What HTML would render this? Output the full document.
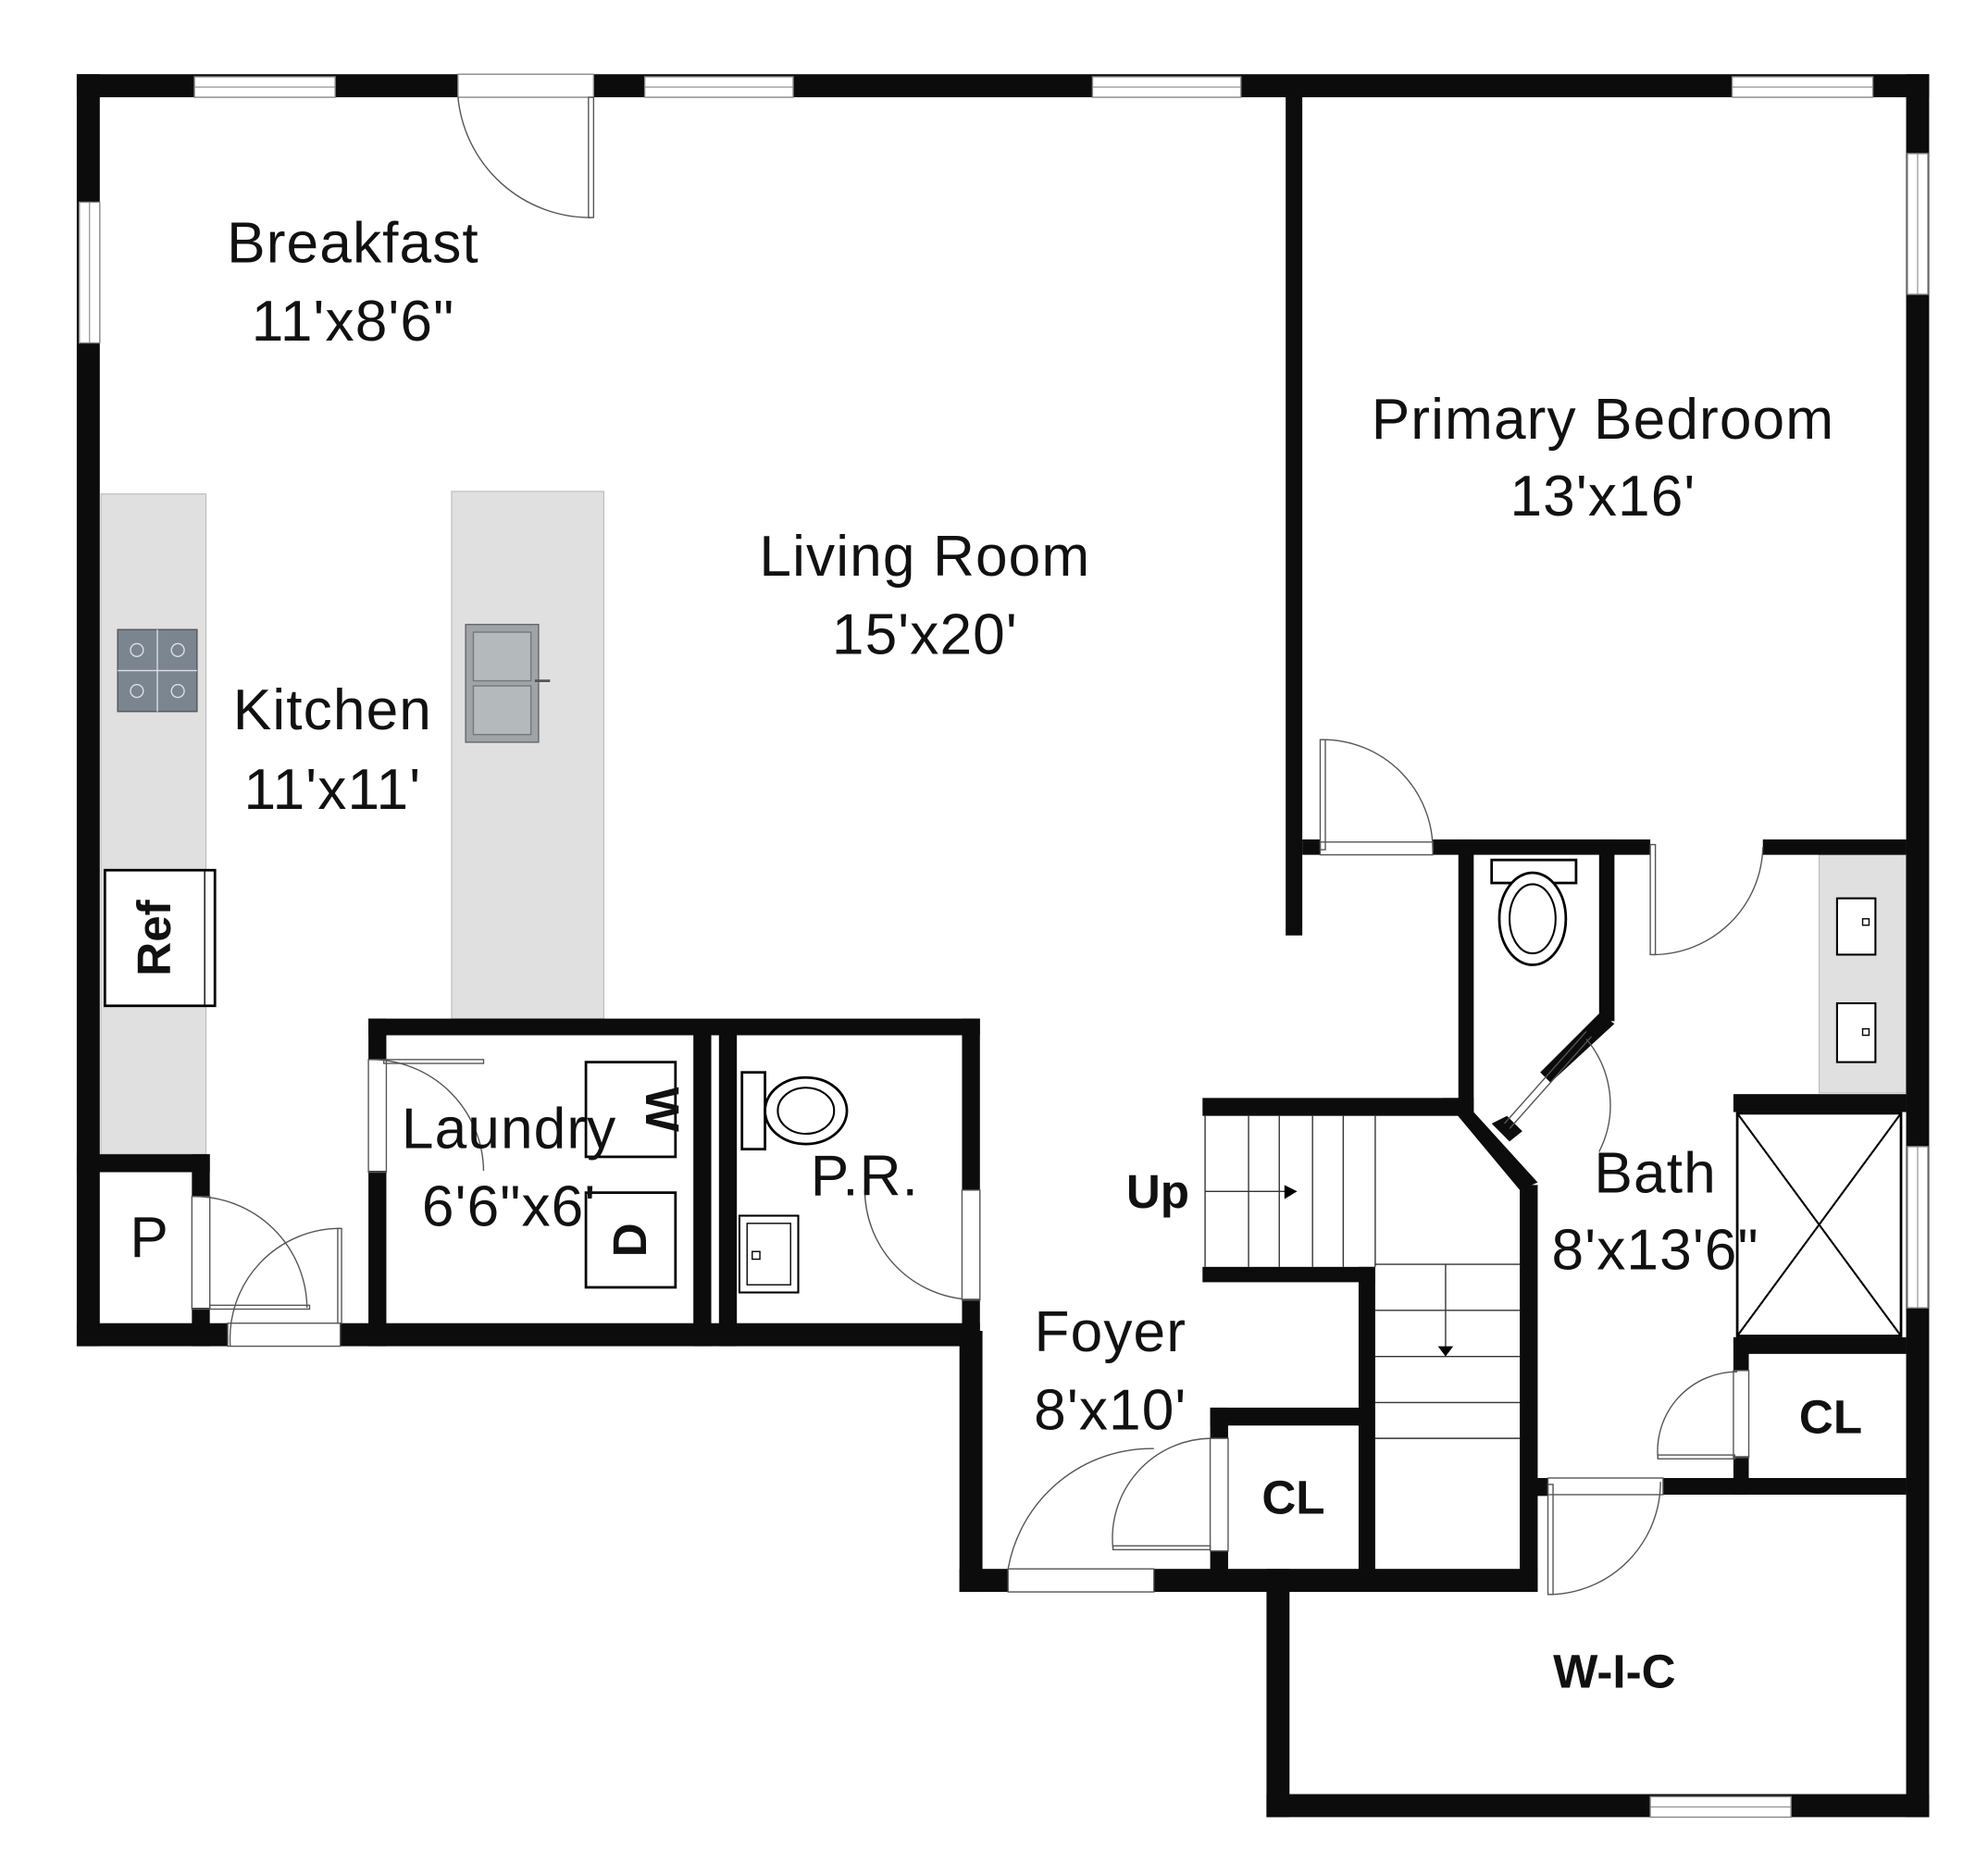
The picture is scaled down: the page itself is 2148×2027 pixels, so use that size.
<!DOCTYPE html>
<html><head><style>html,body{margin:0;padding:0;background:#fff}svg{display:block}</style></head>
<body>
<svg xmlns="http://www.w3.org/2000/svg" width="2148" height="2027" viewBox="0 0 1554 1466" preserveAspectRatio="none">
<rect width="1554" height="1466" fill="#fff"/>
<!-- counters -->
<rect x="79" y="386" width="82" height="516" fill="#e0e0e0" stroke="#bbb" stroke-width="0.8"/>
<rect x="353" y="384" width="119" height="412" fill="#e0e0e0" stroke="#bbb" stroke-width="0.8"/>
<rect x="1422" y="668" width="68" height="186" fill="#e0e0e0" stroke="#bbb" stroke-width="0.8"/>
<g fill="#0c0c0c">
<!-- outer -->
<rect x="60" y="58" width="1448" height="18"/>
<rect x="60" y="58" width="18" height="994"/>
<rect x="1490" y="58" width="18" height="1362"/>
<rect x="990" y="1402" width="518" height="18"/>
<rect x="990" y="1226" width="18" height="194"/>
<rect x="60" y="1034" width="118" height="18"/>
<rect x="266" y="1034" width="500" height="18"/>
<rect x="750" y="1040" width="18" height="204"/>
<rect x="750" y="1226" width="38" height="18"/>
<rect x="902" y="1226" width="300" height="18"/>
<!-- bedroom -->
<rect x="1005" y="68" width="13" height="663"/>
<rect x="1018" y="656" width="14" height="12"/>
<rect x="1120" y="656" width="170" height="12"/>
<rect x="1378" y="656" width="112" height="12"/>
<!-- toilet room -->
<rect x="1140" y="656" width="12" height="214"/>
<rect x="1250" y="656" width="12" height="142"/>
<polygon points="1250,792 1262,800 1212,846 1204,838"/>
<polygon points="1166,878 1178,872 1190,884 1180,892"/>
<!-- stairs walls -->
<rect x="940" y="858" width="212" height="14"/>
<polygon points="1128,858 1142,858 1202,924 1188,930"/>
<rect x="1188" y="926" width="14" height="318"/>
<rect x="940" y="990" width="135" height="12"/>
<rect x="1062" y="990" width="13" height="240"/>
<rect x="946" y="1100" width="119" height="14"/>
<rect x="946" y="1100" width="14" height="24"/>
<rect x="946" y="1212" width="14" height="22"/>
<!-- bath right -->
<rect x="1355" y="855" width="135" height="14"/>
<rect x="1355" y="1045" width="135" height="13"/>
<rect x="1355" y="1045" width="12" height="26"/>
<rect x="1355" y="1138" width="12" height="30"/>
<rect x="1300" y="1155" width="190" height="13"/>
<rect x="1196" y="1155" width="14" height="14"/>
<!-- laundry / PR -->
<rect x="288" y="796" width="478" height="13"/>
<rect x="288" y="796" width="14" height="32"/>
<rect x="288" y="915" width="14" height="137"/>
<rect x="542" y="800" width="14" height="252"/>
<rect x="562" y="800" width="14" height="252"/>
<rect x="752" y="796" width="14" height="134"/>
<rect x="752" y="1015" width="14" height="37"/>
<!-- pantry -->
<rect x="60" y="902" width="104" height="14"/>
<rect x="150" y="902" width="14" height="33"/>
<rect x="150" y="1022" width="14" height="30"/>
</g>
<!-- windows -->
<g fill="#fff" stroke="#888" stroke-width="1">
<rect x="152" y="60" width="110" height="16"/><rect x="504" y="60" width="116" height="16"/>
<rect x="854" y="60" width="116" height="16"/><rect x="1354" y="60" width="110" height="16"/>
<rect x="62" y="158" width="16" height="110"/><rect x="1491" y="120" width="16" height="110"/>
<rect x="1491" y="896" width="16" height="126"/><rect x="1290" y="1404" width="110" height="16"/>
<rect x="358" y="58" width="106" height="18"/>
</g>
<g stroke="#888" stroke-width="0.8">
<line x1="152" y1="68" x2="262" y2="68"/><line x1="504" y1="68" x2="620" y2="68"/>
<line x1="854" y1="68" x2="970" y2="68"/><line x1="1354" y1="68" x2="1464" y2="68"/>
<line x1="70" y1="158" x2="70" y2="268"/><line x1="1499" y1="120" x2="1499" y2="230"/>
<line x1="1499" y1="896" x2="1499" y2="1022"/><line x1="1290" y1="1412" x2="1400" y2="1412"/>
</g>
<!-- doors -->
<g fill="none" stroke="#555" stroke-width="1">
<path d="M358 76 A104 104 0 0 0 462 170"/><rect x="460" y="76" width="4" height="94"/>
<path d="M1034 578 A86 86 0 0 1 1120 664"/><rect x="1032" y="578" width="4" height="86"/><rect x="1032" y="658" width="88" height="10"/>
<path d="M1292 746 A86 86 0 0 0 1378 662"/><rect x="1290" y="660" width="4" height="86"/>
<path d="M1240 812 A80 80 0 0 1 1250 900"/><line x1="1180" y1="882" x2="1244" y2="810"/><line x1="1176" y1="878" x2="1240" y2="806"/>
<path d="M290 828 A88 88 0 0 1 378 915"/><rect x="288" y="828" width="14" height="88"/><rect x="300" y="828" width="78" height="3"/>
<path d="M150 935 A88 88 0 0 1 240 1022"/><rect x="150" y="935" width="14" height="88"/><rect x="164" y="1020" width="78" height="3"/>
<path d="M180 1052 A86 86 0 0 1 266 960"/><rect x="264" y="960" width="3" height="74"/><rect x="178" y="1034" width="88" height="18"/>
<path d="M676 930 A86 86 0 0 0 752 1015"/><rect x="752" y="930" width="14" height="86"/>
<path d="M788 1226 A114 114 0 0 1 902 1132"/><rect x="788" y="1226" width="114" height="18"/>
<path d="M870 1210 A78 78 0 0 1 946 1124"/><rect x="946" y="1124" width="14" height="88"/><rect x="870" y="1208" width="76" height="3"/>
<path d="M1296 1140 A62 62 0 0 1 1358 1072"/><rect x="1355" y="1071" width="12" height="68"/><rect x="1296" y="1137" width="60" height="3"/>
<path d="M1212 1246 A88 88 0 0 0 1298 1158"/><rect x="1210" y="1155" width="90" height="13"/><rect x="1210" y="1160" width="4" height="86"/>
</g>
<!-- stairs -->
<g stroke="#333" stroke-width="1" fill="none">
<line x1="942" y1="872" x2="942" y2="990"/>
<line x1="976" y1="872" x2="976" y2="990"/><line x1="1000" y1="872" x2="1000" y2="990"/>
<line x1="1026" y1="872" x2="1026" y2="990"/><line x1="1050" y1="872" x2="1050" y2="990"/>
<line x1="1075" y1="872" x2="1075" y2="990"/>
<line x1="1075" y1="988" x2="1188" y2="988"/><line x1="1075" y1="1024" x2="1188" y2="1024"/>
<line x1="1075" y1="1060" x2="1188" y2="1060"/><line x1="1075" y1="1096" x2="1188" y2="1096"/>
<line x1="1075" y1="1124" x2="1188" y2="1124"/>
<line x1="942" y1="931" x2="1008" y2="931"/><line x1="1130" y1="988" x2="1130" y2="1054"/>
</g>
<polygon points="1004,926 1014,931 1004,937" fill="#000"/>
<polygon points="1124,1052 1136,1052 1130,1060" fill="#000"/>
<!-- shower -->
<rect x="1358" y="870" width="128" height="174" fill="none" stroke="#000" stroke-width="2"/>
<line x1="1358" y1="870" x2="1486" y2="1044" stroke="#000" stroke-width="1.5"/>
<line x1="1486" y1="870" x2="1358" y2="1044" stroke="#000" stroke-width="1.5"/>
<!-- fixtures -->
<rect x="1436" y="702" width="30" height="44" fill="#fff" stroke="#000" stroke-width="1.5"/><rect x="1456" y="718" width="5" height="5" fill="none" stroke="#000"/>
<rect x="1436" y="784" width="30" height="46" fill="#fff" stroke="#000" stroke-width="1.5"/><rect x="1456" y="804" width="5" height="5" fill="none" stroke="#000"/>
<rect x="1166" y="672" width="66" height="18" fill="#fff" stroke="#000" stroke-width="2"/>
<ellipse cx="1198" cy="718" rx="26" ry="36" fill="#fff" stroke="#000" stroke-width="2"/><ellipse cx="1198" cy="718" rx="18" ry="27" fill="none" stroke="#000" stroke-width="1.5"/>
<rect x="580" y="838" width="18" height="60" fill="#fff" stroke="#000" stroke-width="2"/>
<ellipse cx="630" cy="868" rx="32" ry="26" fill="#fff" stroke="#000" stroke-width="2"/><ellipse cx="630" cy="868" rx="22" ry="18" fill="none" stroke="#000" stroke-width="1.5"/>
<rect x="578" y="950" width="46" height="60" fill="#fff" stroke="#000" stroke-width="1.5"/><rect x="584" y="956" width="34" height="48" fill="none" stroke="#000"/><rect x="588" y="978" width="6" height="6" fill="none" stroke="#000"/>
<rect x="458" y="830" width="70" height="74" fill="#fff" stroke="#000" stroke-width="2"/>
<rect x="458" y="932" width="70" height="74" fill="#fff" stroke="#000" stroke-width="2"/>
<rect x="82" y="680" width="86" height="106" fill="#fff" stroke="#000" stroke-width="2"/>
<line x1="160" y1="680" x2="160" y2="786" stroke="#000"/>
<rect x="92" y="492" width="62" height="64" fill="#7a8590" stroke="#555"/>
<g stroke="#dde" stroke-width="1" fill="none"><line x1="123" y1="492" x2="123" y2="556"/><line x1="92" y1="524" x2="154" y2="524"/>
<circle cx="107" cy="508" r="5"/><circle cx="139" cy="508" r="5"/><circle cx="107" cy="540" r="5"/><circle cx="139" cy="540" r="5"/></g>
<rect x="364" y="488" width="57" height="92" fill="#9ea4a8" stroke="#666"/>
<rect x="370" y="494" width="45" height="38" fill="#b4b9bc" stroke="#777"/><rect x="370" y="536" width="45" height="38" fill="#b4b9bc" stroke="#777"/>
<line x1="418" y1="532" x2="430" y2="532" stroke="#555" stroke-width="2"/>
<!-- labels -->
<g font-family="'Liberation Sans',sans-serif" fill="#111" text-anchor="middle" font-size="45" letter-spacing="0.8">
<text x="276" y="205">Breakfast</text><text x="276" y="266">11'x8'6"</text>
<text x="1253" y="343">Primary Bedroom</text><text x="1253" y="403">13'x16'</text>
<text x="723" y="450">Living Room</text><text x="723" y="511">15'x20'</text>
<text x="260" y="570">Kitchen</text><text x="260" y="632">11'x11'</text>
<text x="398" y="897">Laundry</text><text x="398" y="958">6'6"x6'</text>
<text x="676" y="934">P.R.</text><text x="1294" y="932">Bath</text><text x="1294" y="992">8'x13'6"</text>
<text x="868" y="1056">Foyer</text><text x="868" y="1117">8'x10'</text>
<text x="117" y="982">P</text>
</g>
<g font-family="'Liberation Sans',sans-serif" font-weight="bold" fill="#111" text-anchor="middle" font-size="37">
<text x="905" y="944">Up</text><text x="1011" y="1183">CL</text><text x="1431" y="1120">CL</text><text x="1262" y="1319">W-I-C</text>
<text transform="translate(133,733) rotate(-90)">Ref</text>
<text transform="translate(505,867) rotate(90)">W</text>
<text transform="translate(505,969) rotate(-90)">D</text>
</g>
</svg>
</body></html>
